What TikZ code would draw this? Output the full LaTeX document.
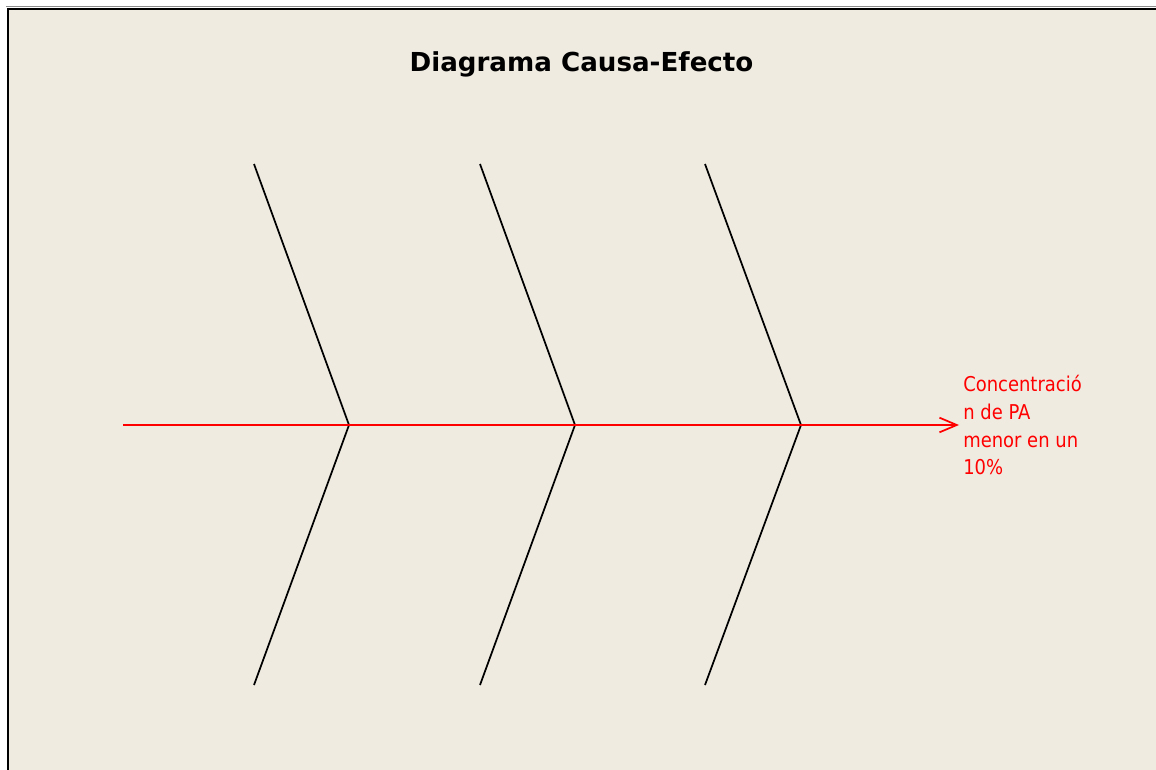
\documentclass[tikz,border=0pt]{standalone}
\usepackage{fontspec}
\setmainfont{DejaVu Sans}
\newfontfamily\effont[FakeStretch=0.88]{DejaVu Sans}
\usetikzlibrary{arrows.meta}
\definecolor{bg}{HTML}{EFEBE1}
\definecolor{effred}{HTML}{FF0000}
\tikzset{
  bone/.style={draw=black, line width=1.3pt},
  spine/.style={draw=effred, line width=1.3pt, -{Straight Barb[length=13pt,width=11pt,line width=1.3pt]}},
  efftext/.style={text=effred, font=\effont\fontsize{15.3}{20.8}\selectfont, align=left, inner sep=0pt, anchor=north west},
  titletext/.style={font=\fontsize{19.6}{24}\selectfont\bfseries, inner sep=0pt, anchor=base}
}
\begin{document}
\begin{tikzpicture}[x=0.75pt,y=-0.75pt]
\useasboundingbox (0,0) rectangle (1156,770);
\fill[white] (0,0) rectangle (1156,770);
\fill[bg] (7,8) rectangle (1156,770);
\draw[black!45, line width=0.75pt] (6,7) -- (1156,7);
\draw[black, line width=1.6pt] (8,770) -- (8,8.6) -- (1156,8.6);
\node[titletext] (title) at (581.5,72) {Diagrama Causa-Efecto};
\coordinate (s0) at (123,425);
\coordinate (v1) at (349,425);
\coordinate (v2) at (575,425);
\coordinate (v3) at (801,425);
\coordinate (t1) at (254,164);
\coordinate (t2) at (480,164);
\coordinate (t3) at (705,164);
\coordinate (b1) at (254,685);
\coordinate (b2) at (480,685);
\coordinate (b3) at (705,685);
\node[efftext] (eff) at (963,375) {Concentració\\n de PA\\menor en un\\10\%};
\draw[bone] (t1) -- (v1) -- (b1);
\draw[bone] (t2) -- (v2) -- (b2);
\draw[bone] (t3) -- (v3) -- (b3);
\draw[spine] (s0) -- ([xshift=-4*0.75pt]s0 -| eff.west);
\end{tikzpicture}
\end{document}
